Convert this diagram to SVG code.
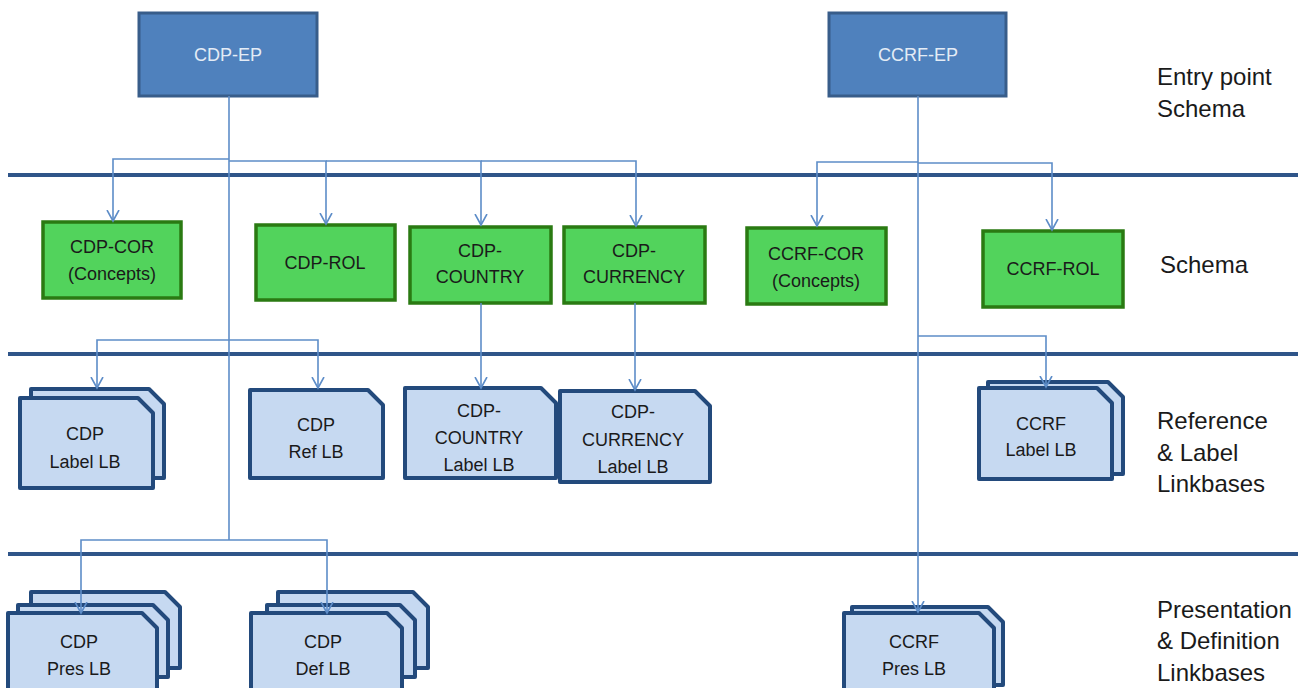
<svg xmlns="http://www.w3.org/2000/svg" width="1307" height="688" viewBox="0 0 1307 688">
<style>
.band{stroke:#2F5589;stroke-width:4;fill:none}
.ep{fill:#4F81BD;stroke:#385D8A;stroke-width:3}
.ept{fill:#E4ECF6;font-family:"Liberation Sans",Arial,sans-serif;font-size:18px;text-anchor:middle}
.sc{fill:#52D35C;stroke:#2A7A12;stroke-width:3.5}
.t{fill:#1A1A1A;font-family:"Liberation Sans",Arial,sans-serif;font-size:18px;text-anchor:middle}
.doc{fill:#C6D9F1;stroke:#234A7C;stroke-width:4;stroke-linejoin:round}
.lbl{fill:#1A1A1A;font-family:"Liberation Sans",Arial,sans-serif;font-size:24px}
.con{fill:none;stroke:#5D8DC8;stroke-width:1.6}
</style>
<defs>
<marker id="arr" markerUnits="userSpaceOnUse" markerWidth="14" markerHeight="14" refX="11" refY="6.5" orient="auto" viewBox="0 0 14 14">
<path d="M0,0.5 L11,6.5 L0,12.5" fill="none" stroke="#5D8DC8" stroke-width="1.6"/>
</marker>
</defs>
<rect width="1307" height="688" fill="#FFFFFF"/>
<g id="bands">
<line class="band" x1="8" y1="175" x2="1298" y2="175"/>
<line class="band" x1="8" y1="354" x2="1298" y2="354"/>
<line class="band" x1="8" y1="554" x2="1298" y2="554"/>
</g>
<g id="cdp-ep">
<rect class="ep" x="139" y="13" width="178" height="83"/>
<text class="ept" x="228" y="61">CDP-EP</text>
</g>
<g id="ccrf-ep">
<rect class="ep" x="829" y="13" width="177" height="83"/>
<text class="ept" x="918" y="61">CCRF-EP</text>
</g>
<g id="cdp-cor">
<rect class="sc" x="43" y="222" width="138" height="76"/>
<text class="t" x="112" y="253">CDP-COR</text>
<text class="t" x="112" y="280">(Concepts)</text>
</g>
<g id="cdp-rol">
<rect class="sc" x="256" y="225" width="139" height="75"/>
<text class="t" x="325" y="269">CDP-ROL</text>
</g>
<g id="cdp-country">
<rect class="sc" x="410" y="227" width="141" height="76"/>
<text class="t" x="480" y="257">CDP-</text>
<text class="t" x="480" y="283">COUNTRY</text>
</g>
<g id="cdp-currency">
<rect class="sc" x="564" y="227" width="141" height="76"/>
<text class="t" x="634" y="257">CDP-</text>
<text class="t" x="634" y="283">CURRENCY</text>
</g>
<g id="ccrf-cor">
<rect class="sc" x="747" y="228" width="139" height="76"/>
<text class="t" x="816" y="260">CCRF-COR</text>
<text class="t" x="816" y="287">(Concepts)</text>
</g>
<g id="ccrf-rol">
<rect class="sc" x="983" y="231" width="140" height="76"/>
<text class="t" x="1053" y="275">CCRF-ROL</text>
</g>
<g id="cdp-label-lb">
<path class="doc" d="M31,389 H149 L164,404 V478 H31 Z"/>
<path class="doc" d="M20,398 H138 L153,413 V488 H20 Z"/>
<text class="t" x="85" y="440">CDP</text>
<text class="t" x="85" y="468">Label LB</text>
</g>
<g id="cdp-ref-lb">
<path class="doc" d="M250,390 H368 L383,405 V478 H250 Z"/>
<text class="t" x="316" y="431">CDP</text>
<text class="t" x="316" y="458">Ref LB</text>
</g>
<g id="cdp-country-label-lb">
<path class="doc" d="M405,388 H541 L556,403 V478 H405 Z"/>
<text class="t" x="479" y="417">CDP-</text>
<text class="t" x="479" y="444">COUNTRY</text>
<text class="t" x="479" y="471">Label LB</text>
</g>
<g id="cdp-currency-label-lb">
<path class="doc" d="M560,391 H695 L710,406 V482 H560 Z"/>
<text class="t" x="633" y="418">CDP-</text>
<text class="t" x="633" y="446">CURRENCY</text>
<text class="t" x="633" y="473">Label LB</text>
</g>
<g id="ccrf-label-lb">
<path class="doc" d="M988,382 H1108 L1123,397 V474 H988 Z"/>
<path class="doc" d="M979,388 H1097 L1112,403 V479 H979 Z"/>
<text class="t" x="1041" y="430">CCRF</text>
<text class="t" x="1041" y="456">Label LB</text>
</g>
<g id="cdp-pres-lb">
<path class="doc" d="M31,592 H165 L180,607 V668 H31 Z"/>
<path class="doc" d="M18,605 H153 L168,620 V677 H18 Z"/>
<path class="doc" d="M8,613 H142 L157,628 V700 H8 Z"/>
<text class="t" x="79" y="648">CDP</text>
<text class="t" x="79" y="675">Pres LB</text>
</g>
<g id="cdp-def-lb">
<path class="doc" d="M278,592 H413 L428,607 V668 H278 Z"/>
<path class="doc" d="M267,605 H400 L415,620 V677 H267 Z"/>
<path class="doc" d="M251,613 H387 L402,628 V700 H251 Z"/>
<text class="t" x="323" y="648">CDP</text>
<text class="t" x="323" y="675">Def LB</text>
</g>
<g id="ccrf-pres-lb">
<path class="doc" d="M852,607 H988 L1003,622 V685 H852 Z"/>
<path class="doc" d="M844,613 H979 L994,628 V700 H844 Z"/>
<text class="t" x="914" y="648">CCRF</text>
<text class="t" x="914" y="675">Pres LB</text>
</g>
<g id="connectors">
<path class="con" d="M229,96 V540"/>
<path class="con" d="M229,159 H113 V221" marker-end="url(#arr)"/>
<path class="con" d="M229,161 H326 V224" marker-end="url(#arr)"/>
<path class="con" d="M326,161 H481 V225" marker-end="url(#arr)"/>
<path class="con" d="M481,161 H636 V226" marker-end="url(#arr)"/>
<path class="con" d="M229,340 H97 V388" marker-end="url(#arr)"/>
<path class="con" d="M229,340 H318 V388" marker-end="url(#arr)"/>
<path class="con" d="M481,303 V388" marker-end="url(#arr)"/>
<path class="con" d="M635,303 V390" marker-end="url(#arr)"/>
<path class="con" d="M229,540 H81 V613" marker-end="url(#arr)"/>
<path class="con" d="M229,540 H327 V613" marker-end="url(#arr)"/>
<path class="con" d="M918,96 V612" marker-end="url(#arr)"/>
<path class="con" d="M918,162 H817 V226" marker-end="url(#arr)"/>
<path class="con" d="M918,163 H1052 V230" marker-end="url(#arr)"/>
<path class="con" d="M918,336 H1046 V387" marker-end="url(#arr)"/>
</g>
<g id="labels">
<text class="lbl" x="1157" y="85">Entry point</text>
<text class="lbl" x="1157" y="117">Schema</text>
<text class="lbl" x="1160" y="273">Schema</text>
<text class="lbl" x="1157" y="429">Reference</text>
<text class="lbl" x="1157" y="461">&amp; Label</text>
<text class="lbl" x="1157" y="492">Linkbases</text>
<text class="lbl" x="1157" y="618">Presentation</text>
<text class="lbl" x="1157" y="649">&amp; Definition</text>
<text class="lbl" x="1157" y="681">Linkbases</text>
</g>
</svg>
